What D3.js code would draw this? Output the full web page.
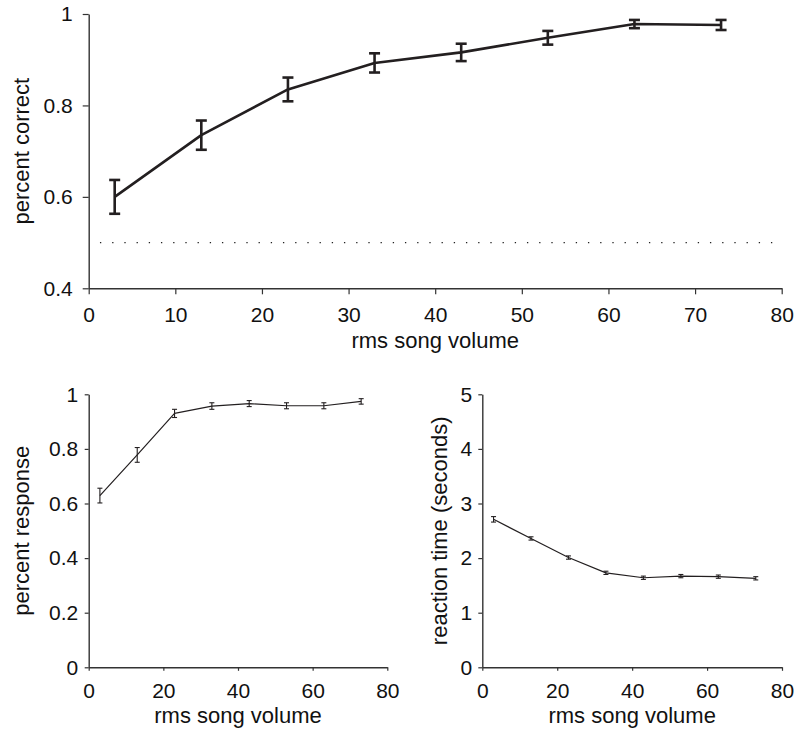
<!DOCTYPE html>
<html>
<head>
<meta charset="utf-8">
<script src="https://cdn.jsdelivr.net/npm/d3@7"></script>
<style>
  html, body { margin: 0; padding: 0; background: #fff; }
  svg { display: block; }
  text { font-family: "Liberation Sans", Arial, Helvetica, sans-serif; fill: #111; }
</style>
</head>
<body>
<svg id="fig" width="799" height="734"></svg>
<script>
// Song volume levels (rms), shared by all three panels
const volume = [3, 13, 23, 33, 43, 53, 63, 73];

// Panel A: proportion of correct choices
const correctMean = [0.600, 0.735, 0.835, 0.893, 0.916, 0.948, 0.978, 0.976];
const correctErr  = [0.037, 0.032, 0.026, 0.021, 0.019, 0.015, 0.009, 0.011];
const chanceLevel = 0.5;

// Panel B: proportion of trials with a response
const responseMean = [0.629, 0.778, 0.930, 0.957, 0.966, 0.958, 0.958, 0.974];
const responseErr  = [0.027, 0.027, 0.015, 0.012, 0.011, 0.011, 0.011, 0.010];

// Panel C: reaction time in seconds
const rtMean = [2.71, 2.36, 2.01, 1.73, 1.64, 1.67, 1.66, 1.63];
const rtErr  = [0.05, 0.03, 0.03, 0.03, 0.03, 0.03, 0.03, 0.03];

// Tick values
const xTicksTop = [0, 10, 20, 30, 40, 50, 60, 70, 80];
const xTicksSmall = [0, 20, 40, 60, 80];
const yTicksCorrect = [0.4, 0.6, 0.8, 1];
const yTicksResponse = [0, 0.2, 0.4, 0.6, 0.8, 1];
const yTicksRT = [0, 1, 2, 3, 4, 5];

const svg = d3.select("#fig");
const ink = "#231f20";
const axisInk = "#333";
const fmt = d => (d === 0 || d === 1 || Number.isInteger(d)) ? String(d) : String(d);

function panel(opt) {
  const x = d3.scaleLinear().domain([0, 80]).range([opt.left, opt.right]);
  const y = d3.scaleLinear().domain(opt.yDomain).range([opt.bottom, opt.top]);
  const g = svg.append("g");

  // axes
  const xAxis = d3.axisBottom(x).tickValues(opt.xTicks).tickFormat(fmt)
    .tickSizeInner(opt.xTickSize).tickSizeOuter(0).tickPadding(opt.xPad);
  const yAxis = d3.axisLeft(y).tickValues(opt.yTicks).tickFormat(fmt)
    .tickSizeInner(opt.yTickSize).tickSizeOuter(0).tickPadding(opt.yPad);

  const gx = g.append("g").attr("transform", `translate(0,${opt.bottom})`).call(xAxis);
  const gy = g.append("g").attr("transform", `translate(${opt.left},0)`).call(yAxis);
  [gx, gy].forEach(a => {
    a.select(".domain").attr("stroke", axisInk).attr("stroke-width", 1.4);
    a.selectAll(".tick line").attr("stroke", axisInk).attr("stroke-width", 1.2);
    a.selectAll(".tick text").attr("font-size", opt.tickFont)
      .attr("font-family", '"Liberation Sans", Arial, sans-serif').attr("fill", "#111");
  });

  // reference line
  if (opt.refLine !== undefined) {
    g.append("line")
      .attr("x1", x(opt.refFrom)).attr("x2", x(opt.refTo))
      .attr("y1", y(opt.refLine)).attr("y2", y(opt.refLine))
      .attr("stroke", "#222").attr("stroke-width", 1.3)
      .attr("stroke-dasharray", "1.3 10.9");
  }

  const pts = volume.map((v, i) => ({ v, m: opt.mean[i], e: opt.err[i] }));

  // connecting line
  g.append("path").datum(pts)
    .attr("fill", "none").attr("stroke", ink)
    .attr("stroke-width", opt.lineW).attr("stroke-linejoin", "round")
    .attr("d", d3.line().x(d => x(d.v)).y(d => y(d.m)));

  // error bars
  const eb = g.append("g").attr("stroke", ink).attr("stroke-width", opt.barW);
  pts.forEach(d => {
    const cx = x(d.v), y0 = y(d.m - d.e), y1 = y(d.m + d.e), hw = opt.capW / 2;
    eb.append("line").attr("x1", cx).attr("x2", cx).attr("y1", y0).attr("y2", y1);
    eb.append("line").attr("x1", cx - hw).attr("x2", cx + hw).attr("y1", y0).attr("y2", y0);
    eb.append("line").attr("x1", cx - hw).attr("x2", cx + hw).attr("y1", y1).attr("y2", y1);
  });

  // axis titles
  g.append("text")
    .attr("x", (opt.left + opt.right) / 2).attr("y", opt.xTitleY)
    .attr("text-anchor", "middle").attr("font-size", opt.titleFont)
    .text("rms song volume");
  g.append("text")
    .attr("transform", `translate(${opt.yTitleX},${(opt.top + opt.bottom) / 2}) rotate(-90)`)
    .attr("text-anchor", "middle").attr("font-size", opt.titleFont)
    .text(opt.yTitle);
}

// Panel A (top, wide)
panel({
  left: 88.7, right: 781.7, top: 14, bottom: 288.3,
  yDomain: [0.4, 1], xTicks: xTicksTop, yTicks: yTicksCorrect,
  mean: correctMean, err: correctErr,
  xTickSize: 6, xPad: 12.4, yTickSize: 6, yPad: 10, tickFont: 21,
  lineW: 2.6, barW: 2.6, capW: 11,
  refLine: chanceLevel, refFrom: 1.3, refTo: 79.1,
  xTitleY: 348, yTitleX: 29, titleFont: 22,
  yTitle: "percent correct"
});

// Panel B (bottom left)
panel({
  left: 88.7, right: 387.3, top: 394.3, bottom: 667.3,
  yDomain: [0, 1], xTicks: xTicksSmall, yTicks: yTicksResponse,
  mean: responseMean, err: responseErr,
  xTickSize: 3.5, xPad: 12.5, yTickSize: 4, yPad: 6.5, tickFont: 21,
  lineW: 1.2, barW: 1.1, capW: 5,
  xTitleY: 723, yTitleX: 29, titleFont: 22,
  yTitle: "percent response"
});

// Panel C (bottom right)
panel({
  left: 482.3, right: 782, top: 394.3, bottom: 667.3,
  yDomain: [0, 5], xTicks: xTicksSmall, yTicks: yTicksRT,
  mean: rtMean, err: rtErr,
  xTickSize: 3.5, xPad: 12.5, yTickSize: 4, yPad: 6, tickFont: 21,
  lineW: 1.2, barW: 1.1, capW: 5,
  xTitleY: 723, yTitleX: 447, titleFont: 22,
  yTitle: "reaction time (seconds)"
});
</script>
</body>
</html>
